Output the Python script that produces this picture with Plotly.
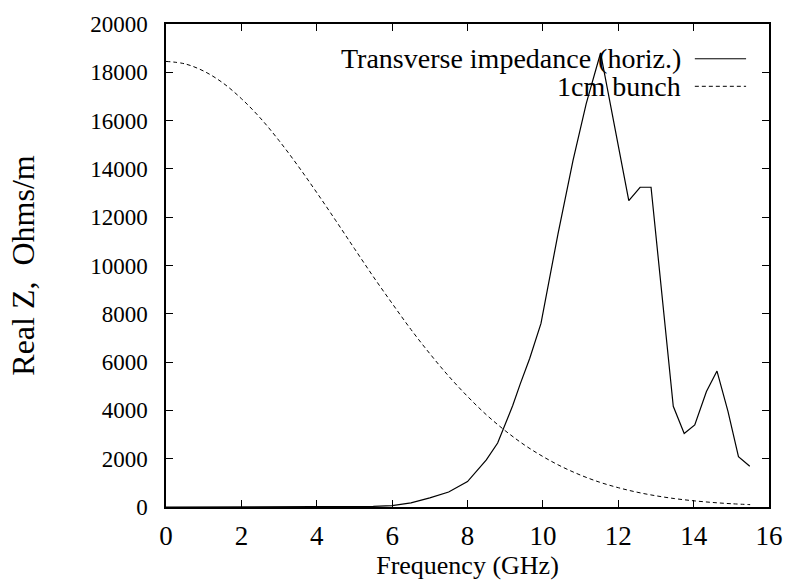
import plotly.graph_objects as go

# Transverse impedance (horiz.)
imp_freq = [0, 1, 2, 3, 4, 5, 5.5, 6.0, 6.5, 7.0, 7.5, 8.0, 8.5, 8.8, 9.0, 9.2, 9.4,
            9.65, 9.95, 10.2, 10.4, 10.8, 11.15, 11.53, 12.28, 12.58, 12.87, 13.46,
            13.75, 14.03, 14.34, 14.62, 14.91, 15.19, 15.49]
imp_real = [0, 0, 0, 0, 2, 10, 25, 60, 170, 380, 620, 1050, 1950, 2650, 3400, 4200, 5100,
            6150, 7600, 9650, 11300, 14350, 16700, 18800, 12690, 13240, 13240, 4170,
            3040, 3395, 4785, 5630, 3970, 2085, 1690]

# 1cm bunch spectrum
bunch_freq = [0, 0.5, 1, 1.5, 2, 2.5, 3, 3.5, 4, 4.5, 5, 5.5, 6, 6.5, 7, 7.5, 8, 8.5,
              9, 9.5, 10, 10.5, 11, 11.5, 12, 12.5, 13, 13.5, 14, 14.5, 15, 15.5]
bunch_val = [18450, 18350, 18050, 17570, 16910, 16110, 15170, 14130, 13020, 11870,
             10700, 9540, 8430, 7350, 6350, 5420, 4580, 3820, 3160, 2580, 2090, 1670,
             1320, 1030, 800, 613, 464, 347, 257, 188, 136, 98]

legend_labels = ["Transverse impedance (horiz.)", "1cm bunch"]
x_ticks = list(range(0, 17, 2))
y_ticks = list(range(0, 20001, 2000))

FONT = "Liberation Serif"

fig = go.Figure()
fig.add_trace(go.Scatter(x=imp_freq, y=imp_real, mode="lines",
                         line=dict(color="black", width=1.2),
                         name=legend_labels[0], showlegend=False))
fig.add_trace(go.Scatter(x=bunch_freq, y=bunch_val, mode="lines",
                         line=dict(color="black", width=1, dash="4px,3px", shape="spline"),
                         name=legend_labels[1], showlegend=False))

axis_common = dict(showgrid=False, zeroline=False, showline=True, linecolor="black",
                   linewidth=1.5, mirror="ticks", ticks="inside", ticklen=7,
                   tickcolor="black", tickwidth=1)

fig.update_xaxes(range=[0, 16], tickvals=x_ticks,
                 ticktext=[str(v) for v in x_ticks],
                 tickfont=dict(family=FONT, size=27, color="black"),
                 ticklabelstandoff=4,
                 title=dict(text="Frequency (GHz)", font=dict(family=FONT, size=26, color="black"),
                            standoff=0),
                 **axis_common)
fig.update_yaxes(range=[0, 20000], tickvals=y_ticks,
                 ticktext=[str(v) for v in y_ticks],
                 tickfont=dict(family=FONT, size=23, color="black"),
                 ticklabelstandoff=12,
                 title=dict(text="Real Z,  Ohms/m", font=dict(family=FONT, size=32, color="black"),
                            standoff=46),
                 **axis_common)

# gnuplot-style key: text right-aligned, line sample to the right
key_rows = [(0.928, "solid"), (0.871, "4px,3px")]
for (ky, dash), label in zip(key_rows, legend_labels):
    fig.add_annotation(x=0.857, y=ky, xref="paper", yref="paper", text=label,
                       showarrow=False, xanchor="right", yanchor="middle",
                       font=dict(family=FONT, size=28, color="black"))
    fig.add_shape(type="line", xref="paper", yref="paper", x0=0.877, x1=0.962,
                  y0=ky, y1=ky, line=dict(color="black", width=1, dash=dash))

fig.update_layout(width=795, height=587,
                  margin=dict(l=166, r=20, t=18, b=80),
                  paper_bgcolor="white", plot_bgcolor="white",
                  font=dict(family=FONT, color="black"))

fig.write_html("out.html")
